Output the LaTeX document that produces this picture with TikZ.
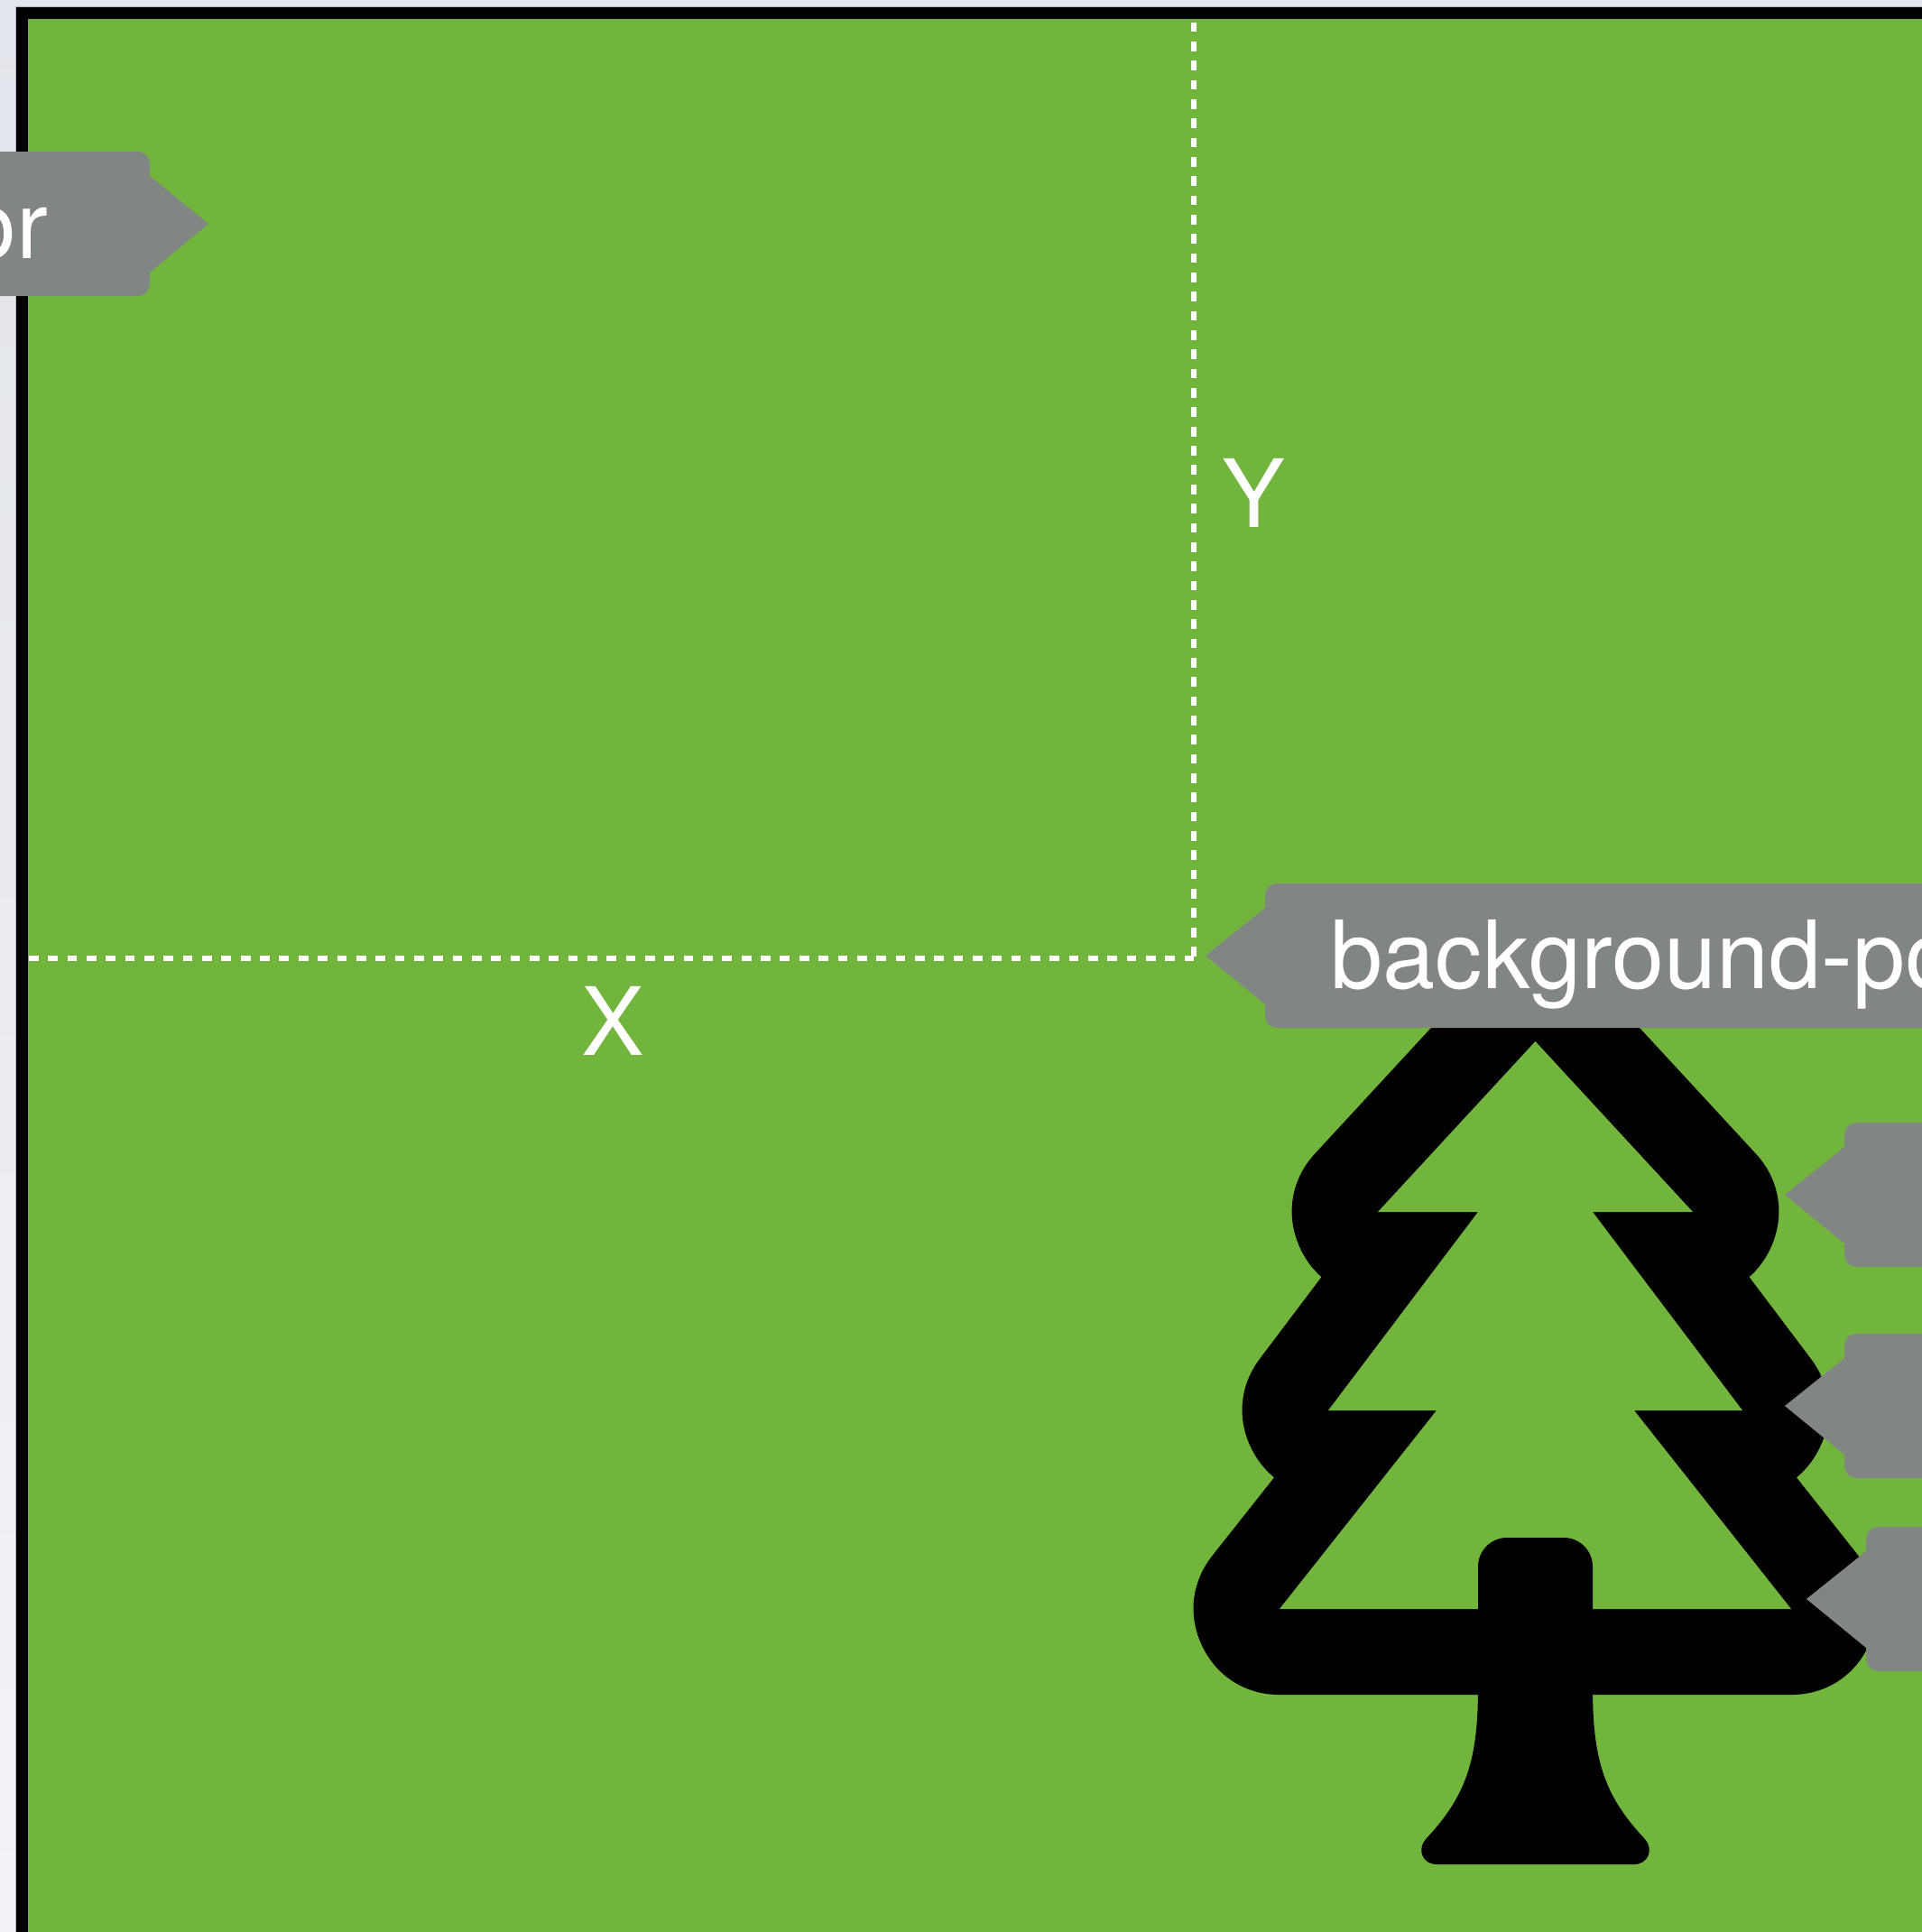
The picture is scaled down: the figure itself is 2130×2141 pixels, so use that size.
\documentclass[tikz,border=0pt]{standalone}
\usepackage{fontspec}
\setmainfont{TeX Gyre Heros}
\definecolor{pagetop}{HTML}{E2E5EB}
\definecolor{pagebottom}{HTML}{F3F3F7}
\definecolor{edgegray}{HTML}{B4B6BB}
\definecolor{boxgreen}{HTML}{72B53D}
\definecolor{taggray}{HTML}{818682}
\tikzset{
    tagbody/.style={fill=taggray},
    taglabel/.style={text=white,inner sep=0pt,font=\fontsize{29.7}{34}\selectfont},
    offset/.style={white,line width=1.5pt,dash pattern=on 3.05pt off 3.02pt}
}
% tag with its point on the left or right, at the given point
\newcommand{\tagright}[2]{%
    \fill[tagbody] (-20,#2-80) -- (#1-78,#2-80) .. controls (#1-71,#2-80) and (#1-65,#2-74) .. (#1-65,#2-67) -- (#1-65,#2-53) -- (#1,#2) -- (#1-65,#2+54) -- (#1-65,#2+67) .. controls (#1-65,#2+74) and (#1-71,#2+80) .. (#1-78,#2+80) -- (-20,#2+80) -- cycle;}
\newcommand{\tagleft}[2]{%
    \fill[tagbody] (2300,#2-80) -- (#1+79,#2-80) .. controls (#1+72,#2-80) and (#1+66,#2-74) .. (#1+66,#2-67) -- (#1+66,#2-53) -- (#1,#2) -- (#1+66,#2+54) -- (#1+66,#2+67) .. controls (#1+66,#2+74) and (#1+72,#2+80) .. (#1+79,#2+80) -- (2300,#2+80) -- cycle;}
\begin{document}
\begin{tikzpicture}[x=0.01cm,y=-0.01cm]
    \useasboundingbox (0,0) rectangle (2130,2141);
    \shade[top color=pagetop,bottom color=pagebottom] (0,0) rectangle (2130,2141);
    \fill[edgegray] (16.5,6.5) rectangle (2130,2141);
    \fill[black] (18,8) rectangle (2130,2141);
    \fill[boxgreen] (31,21) rectangle (2130,2141);
    % tree
    \draw[black,line width=54.06pt,line join=round,fill=black] (1701.5,1154) -- (1527,1343) -- (1638,1343) -- (1472,1563) -- (1592,1563) -- (1418,1783) -- (1985,1783) -- (1811,1563) -- (1931,1563) -- (1765,1343) -- (1876,1343) -- cycle;
    \fill[boxgreen] (1701.5,1154) -- (1527,1343) -- (1638,1343) -- (1472,1563) -- (1592,1563) -- (1418,1783) -- (1985,1783) -- (1811,1563) -- (1931,1563) -- (1765,1343) -- (1876,1343) -- cycle;
    \fill[black,rounded corners=9.1pt] (1638,1840) -- (1638,1704) -- (1765,1704) -- (1765,1840) -- cycle;
    \fill[black] (1638,1870) .. controls (1638,1950) and (1625,1990) .. (1581,2037) .. controls (1569,2050) and (1577,2066) .. (1592,2066) -- (1811,2066) .. controls (1826,2066) and (1834,2050) .. (1822,2037) .. controls (1778,1990) and (1765,1950) .. (1765,1870) -- cycle;
    % guides
    \coordinate (topend) at (1323,24.5);
    \coordinate (corner) at (1323,1062);
    \coordinate (leftend) at (32,1062);
    \draw[offset] (topend) -- (corner);
    \draw[offset] (leftend) -- (corner);
    \node[taglabel,anchor=base] (ylabel) at (1389,584) {Y};
    \node[taglabel,anchor=base] (xlabel) at (679,1169) {X};
    % tags
    \tagright{231}{248}
    \node[taglabel,anchor=base east] (colortag) at (54,286) {or};
    \tagleft{1336}{1059}
    \node[taglabel,anchor=base west] (postag) at (1474,1095) {background-po};
    \tagleft{1978}{1324}
    \tagleft{1978}{1558}
    \tagleft{2002}{1772}
\end{tikzpicture}
\end{document}
